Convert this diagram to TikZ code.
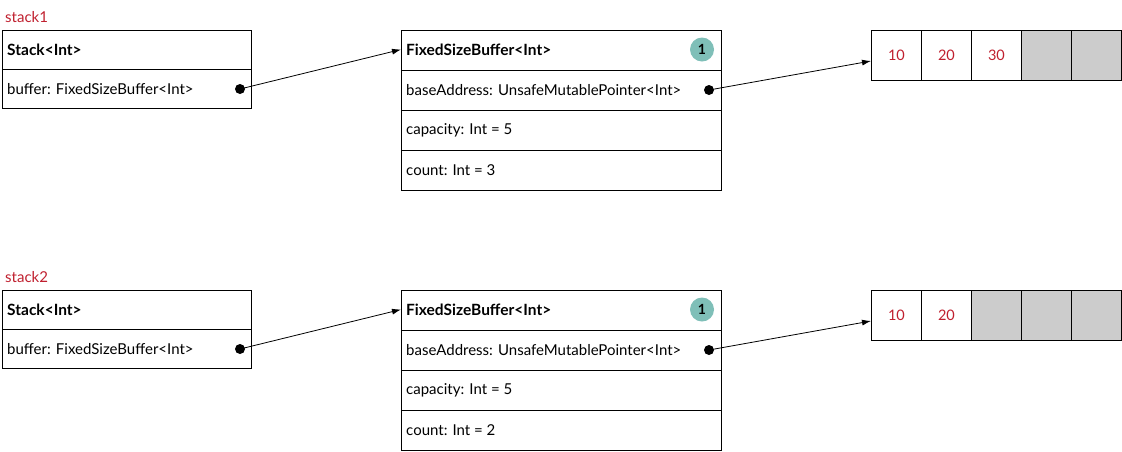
\documentclass[tikz,border=0pt]{standalone}
\usepackage{fontspec}
\setmainfont{Lato}
\usetikzlibrary{arrows.meta,positioning}
\definecolor{lblred}{HTML}{C0202F}
\definecolor{cellgrey}{HTML}{CCCCCC}
\definecolor{badgeteal}{HTML}{7FBFB8}
\tikzset{
  lbl/.style={anchor=west, inner sep=0pt, font=\fontsize{15}{17}\selectfont},
  hdr/.style={lbl, font=\fontsize{15.5}{17}\selectfont\bfseries},
  varname/.style={anchor=west, inner sep=0pt, text=lblred, font=\fontsize{15}{17}\selectfont},
  rowbox/.style={draw, line width=0.9pt, inner sep=0pt, anchor=north west},
  arr/.style={draw, line width=0.9pt, fill=white, inner sep=0pt, minimum width=50pt, minimum height=50pt, text=lblred, font=\fontsize{14.5}{17}\selectfont, anchor=north west},
  garr/.style={arr, fill=cellgrey},
  pdot/.style={circle, fill=black, inner sep=0pt, minimum size=10pt},
  badge/.style={circle, fill=badgeteal, inner sep=0pt, minimum size=24pt, font=\fontsize{14}{16}\selectfont\bfseries},
  ptr/.style={line width=0.8pt, -{Latex[length=9pt,width=6pt]}},
}
\begin{document}
\begin{tikzpicture}[x=1pt,y=-1pt]
\useasboundingbox (0,0) rectangle (1122,451);
\foreach \i/\oy/\cnt in {1/0/3, 2/260/2} {
  \begin{scope}[yshift=-\oy pt]
    \node[varname] (v\i) at (5,17) {stack\i};
    \node[rowbox, minimum width=249pt, minimum height=39pt] (sh\i) at (2,30) {};
    \node[rowbox, minimum width=249pt, minimum height=39pt] (sb\i) at (2,69) {};
    \node[hdr] (st\i) at (7,49.5) {Stack<Int>};
    \node[lbl] (sbt\i) at (7,89) {buffer: FixedSizeBuffer<Int>};
    \node[pdot] (d1\i) at (240,89) {};
    \node[rowbox, minimum width=320pt, minimum height=40pt] (fh\i) at (401,30) {};
    \node[rowbox, minimum width=320pt, minimum height=40pt] (fa\i) at (401,70) {};
    \node[rowbox, minimum width=320pt, minimum height=40pt] (fc\i) at (401,110) {};
    \node[rowbox, minimum width=320pt, minimum height=40pt] (fn\i) at (401,150) {};
    \node[hdr] (ft\i) at (406,50) {FixedSizeBuffer<Int>};
    \node[badge] (bg\i) at (702,49.5) {1};
    \node[lbl] (fat\i) at (406,90) {baseAddress: UnsafeMutablePointer<Int>};
    \node[lbl] (fct\i) at (406,130) {capacity: Int = 5};
    \node[lbl] (fnt\i) at (406,170) {count: Int = \cnt};
    \node[pdot] (d2\i) at (709,90) {};
    \coordinate (ftin\i) at (401,49.5);
    \coordinate (arin\i) at (871,61);
    \draw[ptr] (d1\i.center) -- (ftin\i);
    \draw[ptr] (d2\i.center) -- (arin\i);
  \end{scope}
}
\node[arr] (a11) at (871,30) {10};
\node[arr] (a12) at (921,30) {20};
\node[arr] (a13) at (971,30) {30};
\node[garr] (a14) at (1021,30) {};
\node[garr] (a15) at (1071,30) {};
\node[arr] (a21) at (871,290) {10};
\node[arr] (a22) at (921,290) {20};
\node[garr] (a23) at (971,290) {};
\node[garr] (a24) at (1021,290) {};
\node[garr] (a25) at (1071,290) {};
\end{tikzpicture}
\end{document}
